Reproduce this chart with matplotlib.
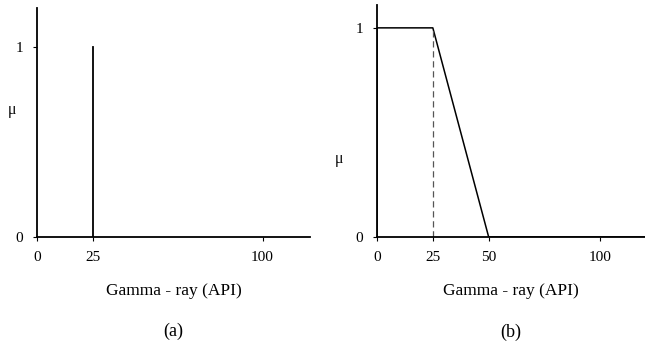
import matplotlib.pyplot as plt
import numpy as np

plt.rcParams['font.family'] = ['Liberation Serif', 'DejaVu Serif']

# (a) crisp set: singleton spike at 25 API
crisp_x = [25, 25]
crisp_mu = [0, 1]

# (b) fuzzy set: trapezoid, full membership up to 25, zero at 50
fuzzy_x = [0, 0, 25, 50, 121]
fuzzy_mu = [0, 1, 1, 0, 0]
dash_x = [25, 25]
dash_mu = [0, 1]

ticks_a = [0, 25, 100]
ticks_b = [0, 25, 50, 100]
xlabel = "Gamma - ray (API)"

fig = plt.figure(figsize=(6.45, 3.47), dpi=100)

def style(ax, xticks, xmax, ymax, mu_pos, tagname):
    ax.set_xlim(0, xmax)
    ax.set_ylim(0, ymax)
    for s in ['top', 'right']:
        ax.spines[s].set_visible(False)
    ax.spines['left'].set_linewidth(1.3)
    ax.spines['bottom'].set_linewidth(1.3)
    ax.set_xticks(xticks)
    ax.set_yticks([0, 1])
    ax.tick_params(direction='out', length=3, width=0.8, labelsize=11, pad=7)
    ax.set_ylabel("μ", rotation=0, fontsize=11.5)
    ax.yaxis.set_label_coords(*mu_pos)
    ax.set_xlabel(xlabel, fontsize=12.5, labelpad=14)
    ax.text(0.5, -0.41, tagname, transform=ax.transAxes, ha='center', va='center', fontsize=13)

ax1 = fig.add_axes([0.0574, 0.317, 0.423, 0.66])
ax1.plot(crisp_x, crisp_mu, color='black', lw=1.3)
style(ax1, ticks_a, 121, 1.205, (-0.092, 0.52), "(a)")

ax2 = fig.add_axes([0.5845, 0.317, 0.4155, 0.669])
ax2.plot(fuzzy_x, fuzzy_mu, color='black', lw=1.1)
ax2.plot(dash_x, dash_mu, color='#555555', lw=0.9, ls=(0, (5, 3)))
style(ax2, ticks_b, 120, 1.11, (-0.14, 0.30), "(b)")

fig.savefig("out.png", dpi=100)
